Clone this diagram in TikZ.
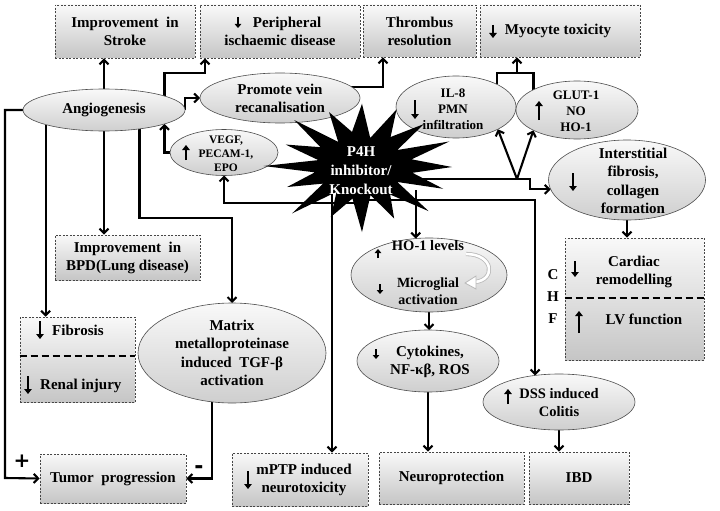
\documentclass[tikz,border=0pt]{standalone}
\usepackage{fontspec}
\setmainfont{Liberation Serif}
\newfontfamily\symf{DejaVu Sans}
\usetikzlibrary{shapes.geometric,arrows.meta,backgrounds,calc}
\newcommand\mainf{\bfseries\fontsize{15}{18}\selectfont}
\begin{document}
\begin{tikzpicture}[x=1pt,y=-1pt,
  box/.style={draw=gray!55!black, dash pattern=on 2pt off 1.5pt, line width=0.6pt,
    top color=gray!5, bottom color=gray!45, inner sep=0pt, align=center, font=\mainf},
  ell/.style={ellipse, draw=gray!60!black, line width=0.6pt, top color=gray!5,
    bottom color=gray!38, inner sep=0pt, outer sep=0pt},
  arr/.style={line width=2.1pt, -{Straight Barb[length=4.5pt,width=9pt]}},
  ln/.style={line width=2.1pt},
  divl/.style={line width=1.8pt, dash pattern=on 7pt off 4pt},
  txt/.style={font=\mainf, align=center, inner sep=0pt},
  garr/.style={line width=1.9pt, -{Triangle[length=5pt,width=7.5pt]}},
  gsm/.style={line width=1.6pt, -{Triangle[length=4pt,width=6.5pt]}}]
\useasboundingbox (0,0) rectangle (720,511);

% boxes
\node[box, minimum width=140pt, minimum height=53pt] (stroke) at (125,31.5) {Improvement\ \ in\\Stroke};
\node[box, minimum width=160pt, minimum height=53pt] (periph) at (280,31.5) {\hspace*{14pt}Peripheral\\ischaemic disease};
\node[box, minimum width=113pt, minimum height=52pt] (thromb) at (419.5,31) {Thrombus\\resolution};
\node[box, minimum width=160pt, minimum height=52pt] (myo) at (560,31) {};
\node[box, minimum width=145pt, minimum height=45pt] (bpd) at (127.5,257.5) {Improvement\ \ in\\BPD(Lung disease)};
\node[box, minimum width=115pt, minimum height=85pt] (fib) at (77.5,359.5) {};
\node[box, minimum width=146pt, minimum height=49pt] (tumor) at (113,478.5) {Tumor\ \ progression};
\node[box, minimum width=136pt, minimum height=53pt] (mptp) at (300,479.5) {};
\node[box, minimum width=145pt, minimum height=52pt] (neuro) at (451.5,478) {Neuroprotection};
\node[box, minimum width=100pt, minimum height=52pt] (ibd) at (579,478) {IBD};
\node[box, minimum width=139pt, minimum height=122pt] (chf) at (634.5,299) {};

% ellipses
\node[ell, minimum width=162pt, minimum height=42pt, font=\mainf] (angio) at (104,110) {Angiogenesis};
\node[ell, minimum width=160pt, minimum height=50pt, font=\mainf, align=center] (promote) at (280,98) {Promote vein\\recanalisation};
\node[ell, minimum width=108pt, minimum height=46pt] (vegf) at (224,152.5) {};
\node[ell, minimum width=120pt, minimum height=62pt] (il8) at (456,107) {};
\node[ell, minimum width=122pt, minimum height=58pt] (glut) at (577,110) {};
\node[ell, minimum width=157pt, minimum height=80pt] (inter) at (627,180) {};
\node[ell, minimum width=156pt, minimum height=74pt] (ho1) at (429,275) {};
\node[ell, minimum width=142pt, minimum height=62pt] (cyto) at (428,361) {};
\node[ell, minimum width=152pt, minimum height=56pt] (dss) at (559,402) {};
\node[ell, minimum width=188pt, minimum height=100pt, font=\bfseries\fontsize{15}{18.5}\selectfont, align=center] (mmp) at (232,353) {Matrix\\metalloproteinase\\induced\ \ TGF-β\\activation};

% star
\fill[black] ({362+90*1.0},167) \foreach \i in {1,...,31} {
  -- ({362+90*(0.76+0.24*cos(\i*180))*(1+0.1*sin(\i*97))*cos(\i*11.25)},
      {166+61*(0.76+0.24*cos(\i*180))*(1+0.1*sin(\i*97))*sin(\i*11.25)}) } -- cycle;
\node[txt, text=white, font=\bfseries\fontsize{15}{19}\selectfont] (p4h) at (361,171) {P4H\\inhibitor/\\Knockout};

% texts inside shapes
\node[txt] (myot) at (558,31) {Myocyte toxicity};
\node[txt, font=\bfseries\fontsize{11.5}{14}\selectfont] (vegft) at (226,154) {VEGF,\\PECAM-1,\\EPO};
\node[txt, font=\bfseries\fontsize{13}{16}\selectfont] (il8t) at (453,109) {IL-8\\PMN\\infiltration};
\node[txt, font=\bfseries\fontsize{13}{16}\selectfont] (glutt) at (576,111) {GLUT-1\\NO\\HO-1};
\node[txt, font=\bfseries\fontsize{15}{18.3}\selectfont] (intert) at (633,181) {Interstitial\\fibrosis,\\collagen\\formation};
\node[txt, font=\bfseries\fontsize{14.5}{17}\selectfont] (ho1t) at (428,246) {HO-1 levels};
\node[txt, font=\bfseries\fontsize{14}{16.5}\selectfont] (migt) at (428,291) {Microglial\\activation};
\node[txt] (cytot) at (430,362) {Cytokines,\\NF-κβ, ROS};
\node[txt, font=\bfseries\fontsize{14.5}{18}\selectfont] (dsst) at (559,403) {DSS induced\\Colitis};
\node[txt] (mptpt) at (304,480) {mPTP induced\\neurotoxicity};

% split boxes
\draw[divl] (fib.west |- 0,356) -- (fib.east |- 0,356);
\node[txt, anchor=west] (fibt) at (52,330) {Fibrosis};
\node[txt, anchor=west] (renal) at (40,386) {Renal injury};
\draw[divl] (chf.west |- 0,298) -- (chf.east |- 0,298);
\node[txt] (chfc) at (553,275) {C};
\node[txt] (chfh) at (553,297) {H};
\node[txt] (chff) at (553,319) {F};
\node[txt] (cardt) at (634,272) {Cardiac\\remodelling};
\node[txt] (lvt) at (644,319) {LV function};

% up/down arrows in the texts
\draw[gsm] (238,17) -- (238,28);
\draw[garr] (493,25) -- (493,38);
\draw[garr] (186,160) -- (186,145);
\draw[garr] (415,100) -- (415,119);
\draw[garr] (539,120) -- (539,101);
\draw[garr] (573,173) -- (573,191);
\draw[gsm] (378,258) -- (378,249);
\draw[gsm] (380,284) -- (380,294);
\draw[gsm] (376,349) -- (376,359);
\draw[garr] (508,404) -- (508,389);
\draw[garr] (248,471) -- (248,489);
\draw[garr] (40,321) -- (40,339);
\draw[garr] (28,376) -- (28,394);
\draw[garr] (575,261) -- (575,277);
\draw[garr] (579,333) -- (579,311);

% curved hollow arrow
\draw[draw=gray!55, double=white, double distance=2.6pt, line width=0.8pt]
  (466,254) .. controls (494,254) and (496,280) .. (475,282);
\filldraw[fill=white, draw=gray!55, line width=0.8pt] (476,276) -- (465,283) -- (476,289) -- cycle;

% +/- labels
\node[txt, font=\symf\bfseries\fontsize{20}{20}\selectfont] (plus) at (22,461) {+};
\node[txt, font=\symf\bfseries\fontsize{22}{22}\selectfont] (minus) at (199,470) {-};

% connectors
\begin{scope}[on background layer]
\draw[arr] (angio.north) -- (angio.north |- stroke.south);
\draw[arr] (angio.13) |- (205,73) -- (periph.south -| 205,0);
\draw[arr] (angio.east) |- (promote.west);
\draw[arr] (promote.9) -| (thromb.south -| 383,0);
\draw[ln] (il8.29) |- (glut.155 |- 0,73) -- (glut.155);
\draw[arr] (517,73) -- (myo.south -| 517,0);
\draw[arr] (p4h.center |- 0,179) -- (530,179) |- (inter.187);
\draw[arr] (517,179) -- (il8.-28);
\draw[arr] (517,179) -- (glut.205);
\draw[arr] (p4h.center |- 0,203) -| (vegf.south);
\draw[arr] (vegf.west) -| (angio.-13);
\draw[arr] (ho1.110 |- 0,190) -- (ho1.110);
\draw[arr] (ho1.south) -- (ho1.south |- cyto.north);
\draw[arr] (cyto.south) -- (cyto.south |- neuro.north);
\draw[arr] (p4h.center |- 0,200) -| (dss.132);
\draw[arr] (dss.south) -- (dss.south |- ibd.north);
\draw[arr] (inter.south) -- (inter.south |- chf.north);
\draw[arr] (332,190) -- (mptp.north -| 332,0);
\draw[arr] (angio.south) -- (angio.south |- bpd.north);
\draw[arr] (angio.194) -- (angio.194 |- fib.north);
\draw[arr] (angio.-28) |- (mmp.north |- 0,218) -- (mmp.north);
\draw[arr] (angio.west) -| (5,478) -- (tumor.west);
\draw[arr] (mmp.248) |- (tumor.east);
\end{scope}
\end{tikzpicture}
\end{document}
